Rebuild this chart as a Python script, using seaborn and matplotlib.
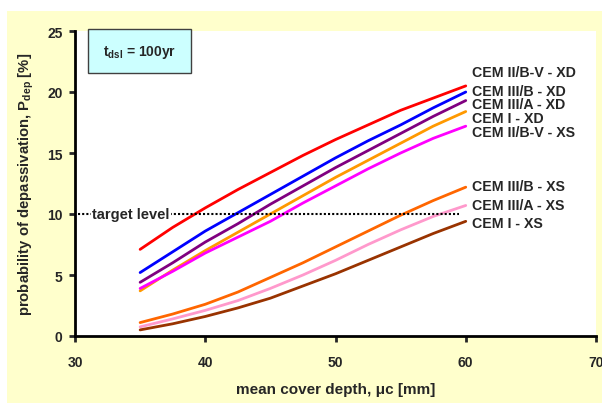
import pandas as pd
import numpy as np
import seaborn as sns
import matplotlib.pyplot as plt
from matplotlib.patches import Rectangle

cover = [35, 37.5, 40, 42.5, 45, 47.5, 50, 52.5, 55, 57.5, 60]
series_names = ["CEM II/B-V - XD", "CEM III/B - XD", "CEM III/A - XD", "CEM I - XD",
                "CEM II/B-V - XS", "CEM III/B - XS", "CEM III/A - XS", "CEM I - XS"]
cem2bv_xd = [7.1, 8.9, 10.5, 12.0, 13.4, 14.8, 16.1, 17.3, 18.5, 19.5, 20.5]
cem3b_xd = [5.2, 6.9, 8.6, 10.1, 11.6, 13.1, 14.6, 16.0, 17.3, 18.7, 20.0]
cem3a_xd = [4.4, 6.0, 7.7, 9.2, 10.8, 12.3, 13.8, 15.2, 16.6, 18.0, 19.3]
cem1_xd = [3.7, 5.4, 7.0, 8.5, 10.0, 11.5, 13.0, 14.4, 15.8, 17.2, 18.4]
cem2bv_xs = [3.9, 5.3, 6.8, 8.1, 9.4, 10.9, 12.3, 13.7, 15.0, 16.2, 17.2]
cem3b_xs = [1.1, 1.8, 2.6, 3.6, 4.8, 6.0, 7.3, 8.6, 9.9, 11.1, 12.2]
cem3a_xs = [0.75, 1.4, 2.1, 2.9, 3.9, 5.0, 6.2, 7.5, 8.7, 9.8, 10.7]
cem1_xs = [0.5, 1.0, 1.6, 2.3, 3.1, 4.1, 5.1, 6.2, 7.3, 8.4, 9.4]
label_y = [21.6, 20.1, 19.0, 17.9, 16.7, 12.3, 10.7, 9.3]
colors = ["#FF0000", "#0000FF", "#800080", "#FF9900",
          "#FF00FF", "#FF6600", "#FF99CC", "#993300"]
target = 10

all_vals = [cem2bv_xd, cem3b_xd, cem3a_xd, cem1_xd, cem2bv_xs, cem3b_xs, cem3a_xs, cem1_xs]
df = pd.DataFrame({
    "cover": cover * len(series_names),
    "p": sum(all_vals, []),
    "series": np.repeat(series_names, len(cover)),
})

sns.set_style("white")
plt.rcParams["font.family"] = ["Liberation Sans", "DejaVu Sans"]
plt.rcParams["font.weight"] = "bold"

fig = plt.figure(figsize=(6.02, 4.06), dpi=100, facecolor="white")
# yellow chart area behind the axes
fig.patches.append(Rectangle((7 / 602, 2 / 406), 1 - 7 / 602, 392 / 406,
                             transform=fig.transFigure, facecolor="#FFFFCC",
                             edgecolor="none", zorder=-10))
ax = fig.add_axes([75 / 602, 69 / 406, 521 / 602, 305 / 406])
ax.set_zorder(1)
ax.set_facecolor("white")

sns.lineplot(data=df, x="cover", y="p", hue="series", palette=dict(zip(series_names, colors)),
             linewidth=2, legend=False, ax=ax)

for name, y in zip(series_names, label_y):
    ax.text(60.5, y, name, fontsize=10.2, fontweight="bold", va="center", ha="left")

ax.plot([30.25, 59.5], [target, target], color="black", linestyle=(0, (1, 1)), linewidth=1.5)
ax.text(34.3, target, "target level", fontsize=10.5, fontweight="bold", ha="center", va="center",
        bbox=dict(facecolor="white", edgecolor="none", pad=1))

# t_dsl box
ax.add_patch(Rectangle((0.025, 0.862), 0.198, 0.145, transform=ax.transAxes,
                       facecolor="#CCFFFF", edgecolor="#404040", linewidth=1,
                       clip_on=False, zorder=5))
ax.text(0.124, 0.934, r"t$_{\mathregular{dsl}}$ = 100yr", transform=ax.transAxes, fontsize=10,
        fontweight="bold", ha="center", va="center", zorder=6)

ax.set_xlim(30, 70)
ax.set_ylim(0, 25)
ax.set_xticks([30, 40, 50, 60, 70])
ax.set_yticks([0, 5, 10, 15, 20, 25])
for side in ["top", "right"]:
    ax.spines[side].set_visible(False)
for side in ["left", "bottom"]:
    ax.spines[side].set_linewidth(2)
    ax.spines[side].set_color("black")
ax.tick_params(axis="both", direction="out", length=4, width=2, labelsize=10,
               bottom=True, left=True)
ax.tick_params(axis="x", pad=10)
ax.tick_params(axis="y", pad=5)
for lbl in ax.get_xticklabels() + ax.get_yticklabels():
    lbl.set_fontweight("bold")
ax.set_xlabel("mean cover depth, \u03bcc [mm]", fontsize=11, fontweight="bold", labelpad=9)
ax.set_ylabel(r"probability of depassivation, P$_{\mathregular{dep}}$ [%]", fontsize=10.7,
              fontweight="bold", labelpad=8)

fig.savefig("out.png", dpi=100, facecolor=fig.get_facecolor())
